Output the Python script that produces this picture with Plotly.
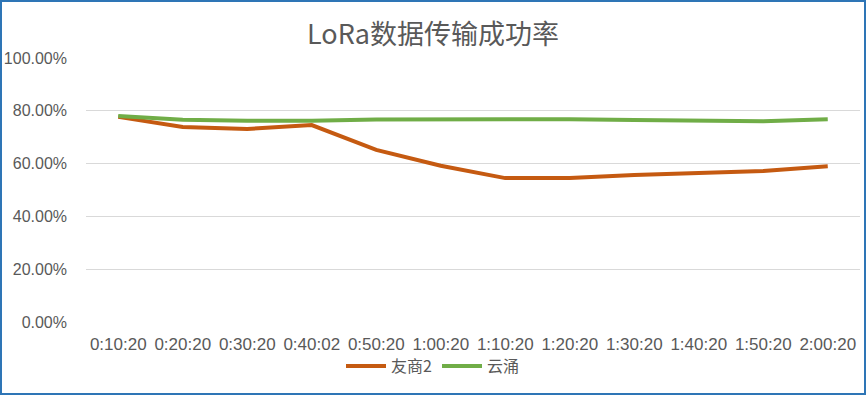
import plotly.graph_objects as go

categories = ["0:10:20", "0:20:20", "0:30:20", "0:40:02", "0:50:20", "1:00:20",
              "1:10:20", "1:20:20", "1:30:20", "1:40:20", "1:50:20", "2:00:20"]
youshang2 = [0.777, 0.739, 0.731, 0.746, 0.652, 0.592, 0.545, 0.545, 0.557, 0.564, 0.572, 0.590]
yunyong = [0.780, 0.766, 0.762, 0.762, 0.767, 0.768, 0.768, 0.768, 0.765, 0.764, 0.760, 0.768]
y_ticks = [0, 0.2, 0.4, 0.6, 0.8, 1.0]

W, H = 866, 395
L, R, T, B = 86, 6, 58, 73
pw, ph = W - L - R, H - T - B

fig = go.Figure()
fig.add_trace(go.Scatter(x=categories, y=youshang2, name="友商2", mode="lines",
                         line=dict(color="#C55A11", width=4)))
fig.add_trace(go.Scatter(x=categories, y=yunyong, name="云涌", mode="lines",
                         line=dict(color="#70AD47", width=4)))

font_fam = "Liberation Sans, Noto Sans CJK SC, sans-serif"
fig.update_layout(
    width=W, height=H,
    margin=dict(l=L, r=R, t=T, b=B, autoexpand=False),
    paper_bgcolor="white", plot_bgcolor="white",
    title=dict(text="LoRa数据传输成功率", x=0.5, xanchor="center",
               xref="container", yref="container",
               y=1 - 35 / H, yanchor="middle",
               font=dict(size=27, color="#595959", family="Noto Sans CJK SC, sans-serif")),
    showlegend=True,
    legend=dict(orientation="h", xref="container", yref="container",
                x=433 / W, xanchor="center",
                y=1 - 366 / H, yanchor="middle",
                bgcolor="rgba(0,0,0,0)",
                font=dict(size=16, color="#595959", family="Noto Sans CJK SC, sans-serif"),
                itemwidth=40, traceorder="normal"),
    xaxis=dict(type="category", showgrid=False, showline=False, ticks="",
               automargin=False, ticklabelstandoff=10,
               tickfont=dict(size=17, color="#595959", family=font_fam),
               range=[-0.5, len(categories) - 0.5]),
    yaxis=dict(range=[0, 1.0], tickvals=y_ticks, tickformat=".2%",
               automargin=False, ticklabelstandoff=18,
               showgrid=True, gridcolor="#D9D9D9", gridwidth=1, zeroline=False,
               showline=False, ticks="",
               tickfont=dict(size=16, color="#595959", family=font_fam)),
    shapes=[dict(type="rect", xref="paper", yref="paper",
                 x0=(1 - L) / pw, x1=(W - 1 - L) / pw,
                 y0=(322 - (H - 1)) / ph, y1=(322 - 1) / ph,
                 line=dict(color="#2E75B6", width=2), fillcolor="rgba(0,0,0,0)")],
)
fig.write_html("out.html", config={"displayModeBar": False},
               post_script="document.body.style.margin='0';document.body.style.padding='0';")
